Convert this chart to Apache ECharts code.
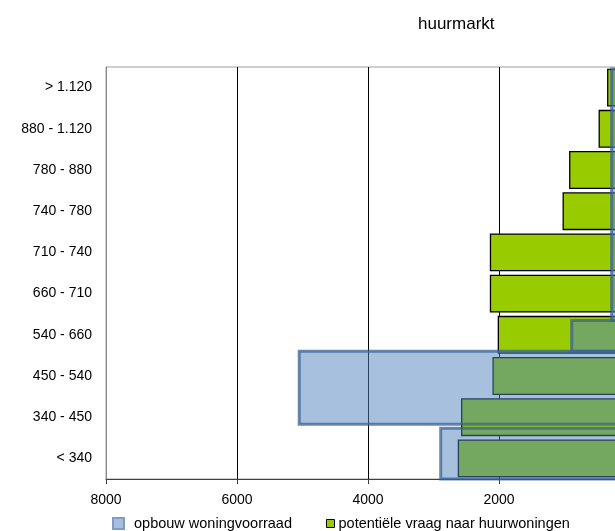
<!DOCTYPE html>
<html>
<head>
<meta charset="utf-8">
<script src="https://cdn.jsdelivr.net/npm/echarts@6/dist/echarts.min.js"></script>
<style>
  html, body { margin: 0; padding: 0; background: #fff; overflow: hidden; }
  #chart { width: 640px; height: 531px; }
</style>
</head>
<body>
<div id="chart"></div>
<script>
// Categories (bottom to top)
const categories = ['< 340', '340 - 450', '450 - 540', '540 - 660', '660 - 710', '710 - 740', '740 - 780', '780 - 880', '880 - 1.120', '> 1.120'];
// potentiële vraag naar huurwoningen
const demandValues = [2630, 2580, 2100, 2020, 2140, 2140, 1030, 930, 480, 350];
// opbouw woningvoorraad (stock bins, expressed on the category index scale)
const stockValues = [2890, 5050, 890, 280];
const stockFrom = [-0.5, 0.83, 2.6, 3.35];
const stockTo = [0.73, 2.6, 3.35, 9.45];
// x axis ticks
const xTicks = [0, 2000, 4000, 6000, 8000];

const stockData = stockValues.map((v, i) => [v, stockFrom[i], stockTo[i]]);

const chart = echarts.init(document.getElementById('chart'), null, { renderer: 'canvas' });
const FONT = 'Liberation Sans, Arial, sans-serif';

chart.setOption({
  animation: false,
  backgroundColor: '#ffffff',
  title: {
    text: 'huurmarkt',
    left: 413,
    top: 11,
    textStyle: { fontFamily: FONT, fontSize: 17, fontWeight: 'normal', color: '#000' }
  },
  legend: [
    {
      data: [{ name: 'opbouw woningvoorraad', icon: 'rect', itemStyle: { color: '#A7BFDF', borderColor: '#7E9CC6', borderWidth: 2 } }],
      left: 107, top: 511, itemWidth: 11, itemHeight: 11,
      textStyle: { fontFamily: FONT, fontSize: 14.5, color: '#000', padding: [0, 0, 0, 5] }
    },
    {
      data: [{ name: 'potentiële vraag naar huurwoningen', icon: 'rect', itemStyle: { color: '#99CC00', borderColor: '#000', borderWidth: 1 } }],
      left: 321, top: 511, itemWidth: 8, itemHeight: 8,
      textStyle: { fontFamily: FONT, fontSize: 14.5, color: '#000', padding: [0, 0, 0, -1] }
    }
  ],
  grid: {
    left: 106, right: 10, top: 67, bottom: 52,
    show: true, borderColor: '#a0a0a0', borderWidth: 1, backgroundColor: 'transparent'
  },
  xAxis: {
    type: 'value',
    inverse: true,
    min: xTicks[0], max: xTicks[xTicks.length - 1], interval: 2000,
    axisLine: { show: true, onZero: false, lineStyle: { color: '#404040', width: 1 } },
    axisTick: { show: true, length: 5, lineStyle: { color: '#404040' } },
    axisLabel: { fontFamily: FONT, fontSize: 14, color: '#000', margin: 14, formatter: v => String(v) },
    splitLine: { show: true, lineStyle: { color: '#000', width: 1 } }
  },
  yAxis: [
    {
      type: 'category',
      data: categories,
      position: 'left',
      axisLine: { show: true, onZero: false, lineStyle: { color: '#868686' } },
      axisTick: { show: false },
      axisLabel: { fontFamily: FONT, fontSize: 14, color: '#000', margin: 14, interval: 0 },
      splitLine: { show: false }
    },
    {
      type: 'value',
      min: -0.5, max: 9.5,
      show: false,
      splitLine: { show: false },
      axisLine: { show: false, onZero: false }
    }
  ],
  series: [
    {
      name: 'potentiële vraag naar huurwoningen',
      type: 'bar',
      data: demandValues,
      barCategoryGap: '8%',
      z: 2,
      itemStyle: { color: '#99CC00', borderColor: '#000', borderWidth: 1.3 }
    },
    {
      name: 'opbouw woningvoorraad',
      type: 'custom',
      xAxisIndex: 0,
      yAxisIndex: 1,
      z: 5,
      data: stockData,
      encode: { x: 0, y: [1, 2] },
      renderItem: function (params, api) {
        const v = api.value(0), y0 = api.value(1), y1 = api.value(2);
        const a = api.coord([0, y1]);
        const b = api.coord([v, y0]);
        return {
          type: 'rect',
          shape: {
            x: Math.min(a[0], b[0]), y: Math.min(a[1], b[1]),
            width: Math.abs(a[0] - b[0]), height: Math.abs(a[1] - b[1])
          },
          style: { fill: 'rgba(79,129,189,0.5)', stroke: 'rgba(58,98,150,0.75)', lineWidth: 3 }
        };
      }
    }
  ]
});
</script>
</body>
</html>
